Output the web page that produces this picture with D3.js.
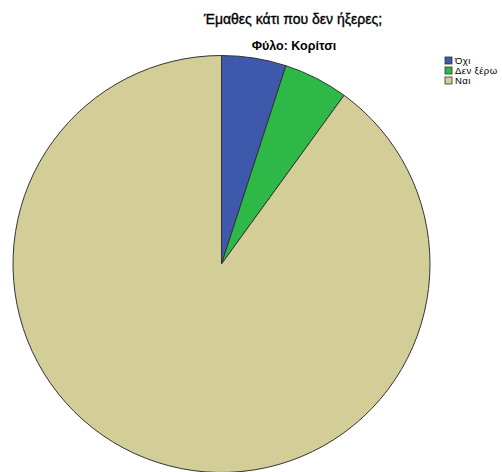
<!DOCTYPE html>
<html><head><meta charset="utf-8">
<script src="https://cdn.jsdelivr.net/npm/d3@7"></script>
<style>body{margin:0;background:#fff}svg{display:block}</style>
</head><body>
<script>
const categories = ["Όχι", "Δεν ξέρω", "Ναι"];
const values = [5, 5, 90];
const colors = ["#3e58ac", "#2eb848", "#d3ce97"];
const title = "Έμαθες κάτι που δεν ήξερες;";
const subtitle = "Φύλο: Κορίτσι";

const W = 502, H = 472;
const svg = d3.select("body").append("svg").attr("width", W).attr("height", H);

svg.append("text").attr("x", 293).attr("y", 24).attr("text-anchor", "middle")
  .style("font-family", "Liberation Sans, Arial, sans-serif").style("font-size", "14px")
  .attr("stroke", "#000").attr("stroke-width", 0.35)
  .text(title);
svg.append("text").attr("x", 294).attr("y", 50).attr("text-anchor", "middle")
  .style("font-family", "Liberation Sans, Arial, sans-serif").style("font-size", "12.5px").style("font-weight", "bold")
  .text(subtitle);

const cx = 221.5, cy = 264, r = 208.5;
const pie = d3.pie().sort(null).value(d => d)(values);
const arc = d3.arc().innerRadius(0).outerRadius(r);
const color = d3.scaleOrdinal().domain(categories).range(colors);
const g = svg.append("g").attr("transform", `translate(${cx},${cy})`);
g.selectAll("path").data(pie).join("path")
  .attr("d", arc).attr("fill", (d, i) => color(categories[i]))
  .attr("stroke", "#333").attr("stroke-width", 1);

const leg = svg.append("g").attr("transform", "translate(445,57)");
categories.forEach((c, i) => {
  const row = leg.append("g").attr("transform", `translate(0,${i * 10})`);
  row.append("rect").attr("width", 7).attr("height", 7).attr("fill", color(c)).attr("stroke", "#333").attr("stroke-width", 0.8);
  row.append("text").attr("x", 10).attr("y", 7).style("font-family", "Liberation Sans, Arial, sans-serif")
    .style("font-size", "9.5px").style("letter-spacing", "0.4px").text(c);
});
</script>
</body></html>
